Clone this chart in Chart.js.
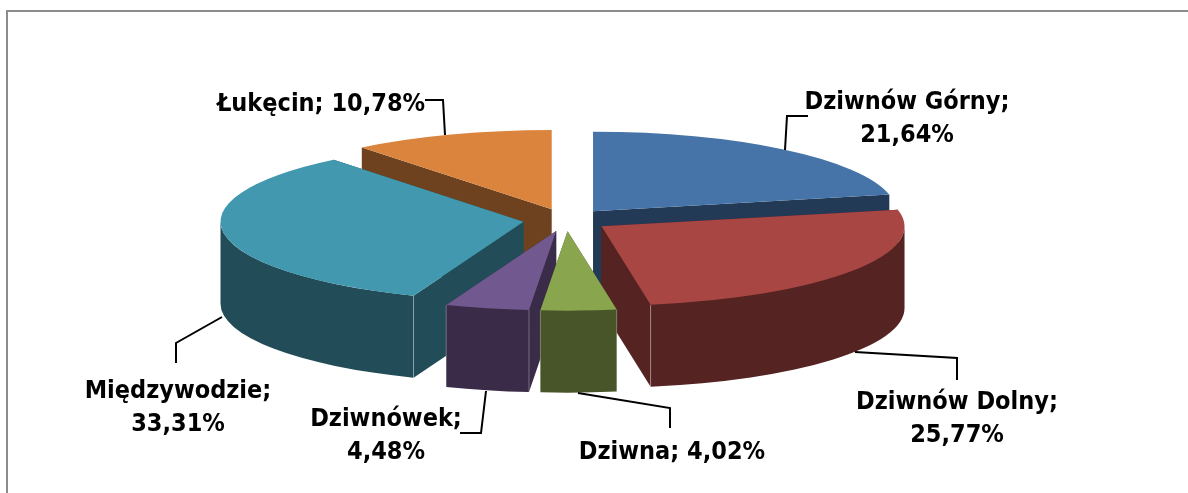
<!DOCTYPE html>
<html>
<head>
<meta charset="utf-8">
<title>Udział miejscowości</title>
<script src="https://cdn.jsdelivr.net/npm/chart.js@4"></script>
<style>
  html, body { margin: 0; padding: 0; background: #fff; }
  canvas { display: block; }
</style>
</head>
<body>
<canvas id="pie-box" width="1188" height="493"></canvas>
<script>
const categories = ["Dziwnów Górny", "Dziwnów Dolny", "Dziwna", "Dziwnówek", "Międzywodzie", "Łukęcin"];
const shares = [21.64, 25.77, 4.02, 4.48, 33.31, 10.78];
const topColors = ["#4674a8", "#a84644", "#89a54e", "#71588f", "#4198af", "#db843d"];
const wallColors = ["#233a56", "#552322", "#475528", "#3a2c48", "#224d58", "#6e421f"];

// back to front, so nearer slices cover the walls of the ones behind
const paintOrder = [5, 0, 4, 1, 3, 2];

const PIE_X = 566;
const PIE_Y = 220;
const RADIUS = 303;
const TILT = 0.262;
const DEPTH = 82;
const GAP = 43;

const FONT = "bold 25px 'DejaVu Sans Condensed'";
const LINE_HEIGHT = 33;

// label placement: centre x, first baseline, split into two lines or not, leader line
const labelLayout = [
  { x: 907, y: 109, split: true, line: [[808, 116], [787, 116], [785, 150]] },
  { x: 957, y: 409, split: true, line: [[855, 352], [957, 358], [957, 380]] },
  { x: 672, y: 459, split: false, line: [[578, 393], [670, 408], [670, 428]] },
  { x: 386, y: 426, split: true, line: [[486, 391], [481, 433], [460, 433]] },
  { x: 178, y: 398, split: true, line: [[222, 317], [176, 343], [176, 363]] },
  { x: 321, y: 111, split: false, line: [[425, 100], [443, 100], [445, 135]] },
];

function sliceOrigin(arc) {
  const mid = (arc.startAngle + arc.endAngle) / 2;
  return {
    x: PIE_X + Math.cos(mid) * GAP,
    y: PIE_Y + Math.sin(mid) * GAP * TILT,
  };
}

function drawWalls(ctx, arc, color) {
  const o = sliceOrigin(arc);
  const r = arc.outerRadius;
  ctx.save();
  ctx.translate(o.x, o.y);
  ctx.fillStyle = color;

  // the two cut faces
  [arc.startAngle, arc.endAngle].forEach(a => {
    const ex = Math.cos(a) * r;
    const ey = Math.sin(a) * r * TILT;
    ctx.beginPath();
    ctx.moveTo(0, 0);
    ctx.lineTo(ex, ey);
    ctx.lineTo(ex, ey + DEPTH);
    ctx.lineTo(0, DEPTH);
    ctx.closePath();
    ctx.fill();
  });

  // the rim, only the part that faces the viewer
  const from = Math.max(arc.startAngle, 0);
  const to = Math.min(arc.endAngle, Math.PI);
  if (to > from) {
    ctx.beginPath();
    ctx.ellipse(0, 0, r, r * TILT, 0, from, to);
    ctx.ellipse(0, DEPTH, r, r * TILT, 0, to, from, true);
    ctx.closePath();
    ctx.fill();

    // pale seam on the corners of the rim
    ctx.strokeStyle = "rgba(255,255,255,0.3)";
    ctx.lineWidth = 1;
    [from, to].forEach(a => {
      if (a === 0 || a === Math.PI) return;
      const ex = Math.cos(a) * r;
      const ey = Math.sin(a) * r * TILT;
      ctx.beginPath();
      ctx.moveTo(ex, ey);
      ctx.lineTo(ex, ey + DEPTH);
      ctx.stroke();
    });
  }
  ctx.restore();
}

function labelLines(i) {
  const pct = shares[i].toFixed(2).replace(".", ",") + "%";
  if (labelLayout[i].split) return [categories[i] + ";", pct];
  return [categories[i] + "; " + pct];
}

const pie3d = {
  id: "pie3d",
  beforeDraw(chart) {
    const ctx = chart.ctx;
    ctx.save();
    ctx.fillStyle = "#fff";
    ctx.fillRect(0, 0, chart.width, chart.height);
    ctx.strokeStyle = "#8c8c8c";
    ctx.lineWidth = 2;
    ctx.beginPath();
    ctx.moveTo(chart.width, 11);
    ctx.lineTo(7, 11);
    ctx.lineTo(7, chart.height);
    ctx.stroke();
    ctx.restore();
  },
  beforeDatasetDraw(chart, args) {
    const ctx = chart.ctx;
    paintOrder.forEach(i => {
      const arc = args.meta.data[i];
      const o = sliceOrigin(arc);
      drawWalls(ctx, arc, wallColors[i]);
      ctx.save();
      ctx.translate(o.x, o.y);
      ctx.scale(1, TILT);
      ctx.translate(-arc.x, -arc.y);
      arc.draw(ctx);
      ctx.restore();
    });
    return false;
  },
  afterDatasetsDraw(chart) {
    const ctx = chart.ctx;
    ctx.save();
    labelLayout.forEach((lab, i) => {
      ctx.strokeStyle = "#000";
      ctx.lineWidth = 2;
      ctx.beginPath();
      lab.line.forEach((p, j) => (j ? ctx.lineTo(p[0], p[1]) : ctx.moveTo(p[0], p[1])));
      ctx.stroke();

      ctx.fillStyle = "#000";
      ctx.font = FONT;
      ctx.textAlign = "center";
      ctx.textBaseline = "alphabetic";
      labelLines(i).forEach((txt, j) => ctx.fillText(txt, lab.x, lab.y + j * LINE_HEIGHT));
    });
    ctx.restore();
  },
};

new Chart(document.getElementById("pie-box"), {
  type: "pie",
  data: {
    labels: categories,
    datasets: [{
      data: shares,
      backgroundColor: topColors,
      borderWidth: 0,
      radius: RADIUS,
    }],
  },
  options: {
    responsive: false,
    animation: false,
    events: [],
    plugins: {
      legend: { display: false },
      tooltip: { enabled: false },
    },
  },
  plugins: [pie3d],
});
</script>
</body>
</html>
